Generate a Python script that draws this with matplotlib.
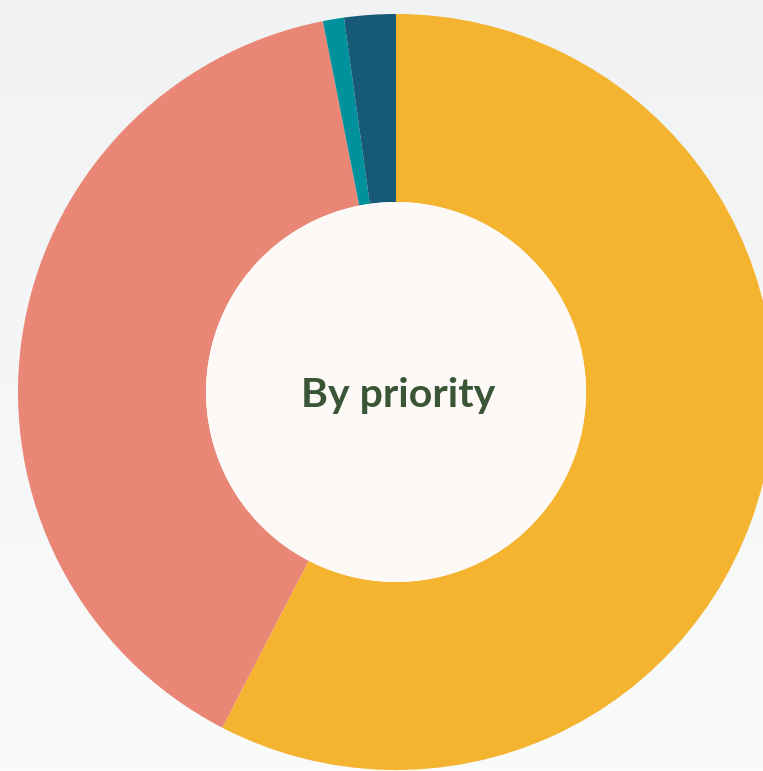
import numpy as np
import matplotlib.pyplot as plt
from matplotlib.patches import Circle

# share of items per priority (clockwise from 12 o'clock)
labels = ['Priority A', 'Priority B', 'Priority C', 'Priority D']
shares = [57.6, 39.3, 0.9, 2.2]
colors = ['#F4B42F', '#EA8675', '#00929C', '#165A78']

W, H = 763, 771
fig = plt.figure(figsize=(W / 100, H / 100), dpi=100)
ax = fig.add_axes([0, 0, 1, 1])

# soft vertical background gradient (darker at top)
grad = np.linspace(0, 1, 256).reshape(-1, 1)
top = np.array([0xF0, 0xF2, 0xF3]) / 255
bot = np.array([0xFA, 0xFB, 0xFB]) / 255
img = top + (bot - top) * grad[:, :, None]
ax.imshow(img, extent=(0, W, 0, H), aspect='auto', zorder=0)

cx, cy = 396, H - 392
r_out, r_in = 378, 190
ax.pie(shares, colors=colors, radius=r_out, center=(cx, cy),
       startangle=90, counterclock=False,
       wedgeprops=dict(width=r_out - r_in, linewidth=0))
ax.add_patch(Circle((cx, cy), r_in, facecolor='#FDF9F6', edgecolor='none', zorder=3))

ax.text(398, H - 407, 'By priority', ha='center', va='baseline',
        fontsize=29.5, fontweight='bold', color='#3A5536',
        family=['Lato', 'DejaVu Sans'], zorder=4)

ax.set_xlim(0, W)
ax.set_ylim(0, H)
ax.set_aspect('auto')
ax.axis('off')

fig.savefig('out.png', dpi=100)
